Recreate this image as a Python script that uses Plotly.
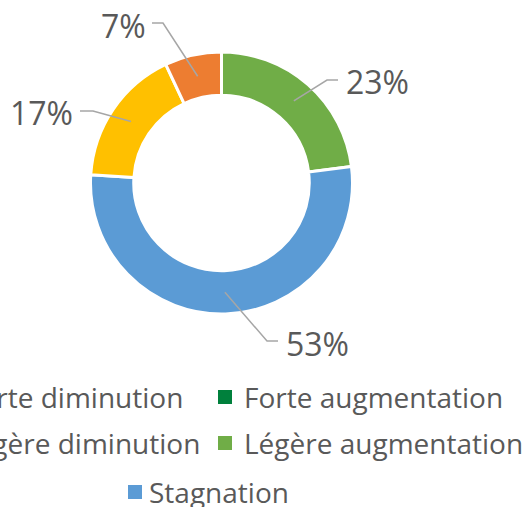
import math
import plotly.graph_objects as go

# ---- data ----
categories = ["Légère augmentation", "Stagnation", "Légère diminution", "Forte diminution", "Forte augmentation"]
values = [23, 53, 17, 7, 0]
colors = ["#70AD47", "#5B9BD5", "#FFC000", "#ED7D31", "#00803C"]
legend_order = ["Forte diminution", "Forte augmentation", "Légère diminution", "Légère augmentation", "Stagnation"]

W, H = 523, 507
CX, CY, R_OUT, HOLE = 221.5, 183, 131, 0.67
TXT = "#595959"
FONT = "Open Sans"

def px(x):
    return x / W

def py(y):
    return 1 - y / H

fig = go.Figure()
fig.add_trace(go.Pie(
    labels=categories, values=values, hole=HOLE, sort=False, direction="clockwise",
    rotation=0, textinfo="none", showlegend=False, hoverinfo="label+percent",
    marker=dict(colors=colors, line=dict(color="white", width=3)),
    domain=dict(x=[px(CX - R_OUT), px(CX + R_OUT)], y=[py(CY + R_OUT), py(CY - R_OUT)]),
))

# label layout (elbow, horizontal end, text anchor) per category
label_layout = {
    "Stagnation": dict(elbow=(267, 341), end=(278, 341), text=(284, 343), anchor="left"),
    "Légère augmentation": dict(elbow=(327, 80), end=(338, 80), text=(344, 82), anchor="left"),
    "Légère diminution": dict(elbow=(93, 111), end=(80, 111), text=(75, 112), anchor="right"),
    "Forte diminution": dict(elbow=(163, 23), end=(152, 23), text=(148, 25), anchor="right"),
}

total = sum(values)
r_mid = R_OUT * (1 + HOLE) / 2
cum = 0
shapes = []
annotations = []
for cat, v in zip(categories, values):
    if v == 0:
        cum += v
        continue
    mid = (cum + v / 2) / total * 2 * math.pi
    cum += v
    sx = CX + r_mid * math.sin(mid)
    sy = CY - r_mid * math.cos(mid)
    lay = label_layout[cat]
    (ex, ey), (hx, hy) = lay["elbow"], lay["end"]
    shapes.append(dict(
        type="path", xref="paper", yref="paper",
        path=f"M {px(sx)},{py(sy)} L {px(ex)},{py(ey)} L {px(hx)},{py(hy)}",
        line=dict(color="#A6A6A6", width=1.5),
    ))
    tx, ty = lay["text"]
    annotations.append(dict(
        x=px(tx), y=py(ty), xref="paper", yref="paper", showarrow=False,
        text=f"{round(v / total * 100)}%", xanchor=lay["anchor"], yanchor="middle",
        font=dict(family=FONT, size=32, color=TXT),
    ))

# legend drawn manually (Excel-like wrapped bottom legend)
legend_pos = {
    "Forte diminution": dict(text=(185, 397), sq=None),
    "Forte augmentation": dict(text=(242, 397), sq=(218, 397)),
    "Légère diminution": dict(text=(202, 443), sq=None),
    "Légère augmentation": dict(text=(242, 443), sq=(218, 443)),
    "Stagnation": dict(text=(147, 492), sq=(128, 492)),
}
SQ = 14
for name in legend_order:
    lp = legend_pos[name]
    col = colors[categories.index(name)]
    tx, ty = lp["text"]
    if lp["sq"] is None:
        annotations.append(dict(x=px(tx), y=py(ty), xref="paper", yref="paper", showarrow=False,
                                text=name, xanchor="right", yanchor="middle",
                                font=dict(family=FONT, size=28, color=TXT)))
    else:
        sx, sy = lp["sq"]
        shapes.append(dict(type="rect", xref="paper", yref="paper",
                           x0=px(sx), x1=px(sx + SQ), y0=py(sy + SQ / 2), y1=py(sy - SQ / 2),
                           fillcolor=col, line=dict(width=0)))
        annotations.append(dict(x=px(tx), y=py(ty), xref="paper", yref="paper", showarrow=False,
                                text=name, xanchor="left", yanchor="middle",
                                font=dict(family=FONT, size=28, color=TXT)))

fig.update_layout(
    width=W, height=H, margin=dict(l=0, r=0, t=0, b=0),
    paper_bgcolor="white", plot_bgcolor="white",
    shapes=shapes, annotations=annotations,
)
fig.write_html("out.html")
